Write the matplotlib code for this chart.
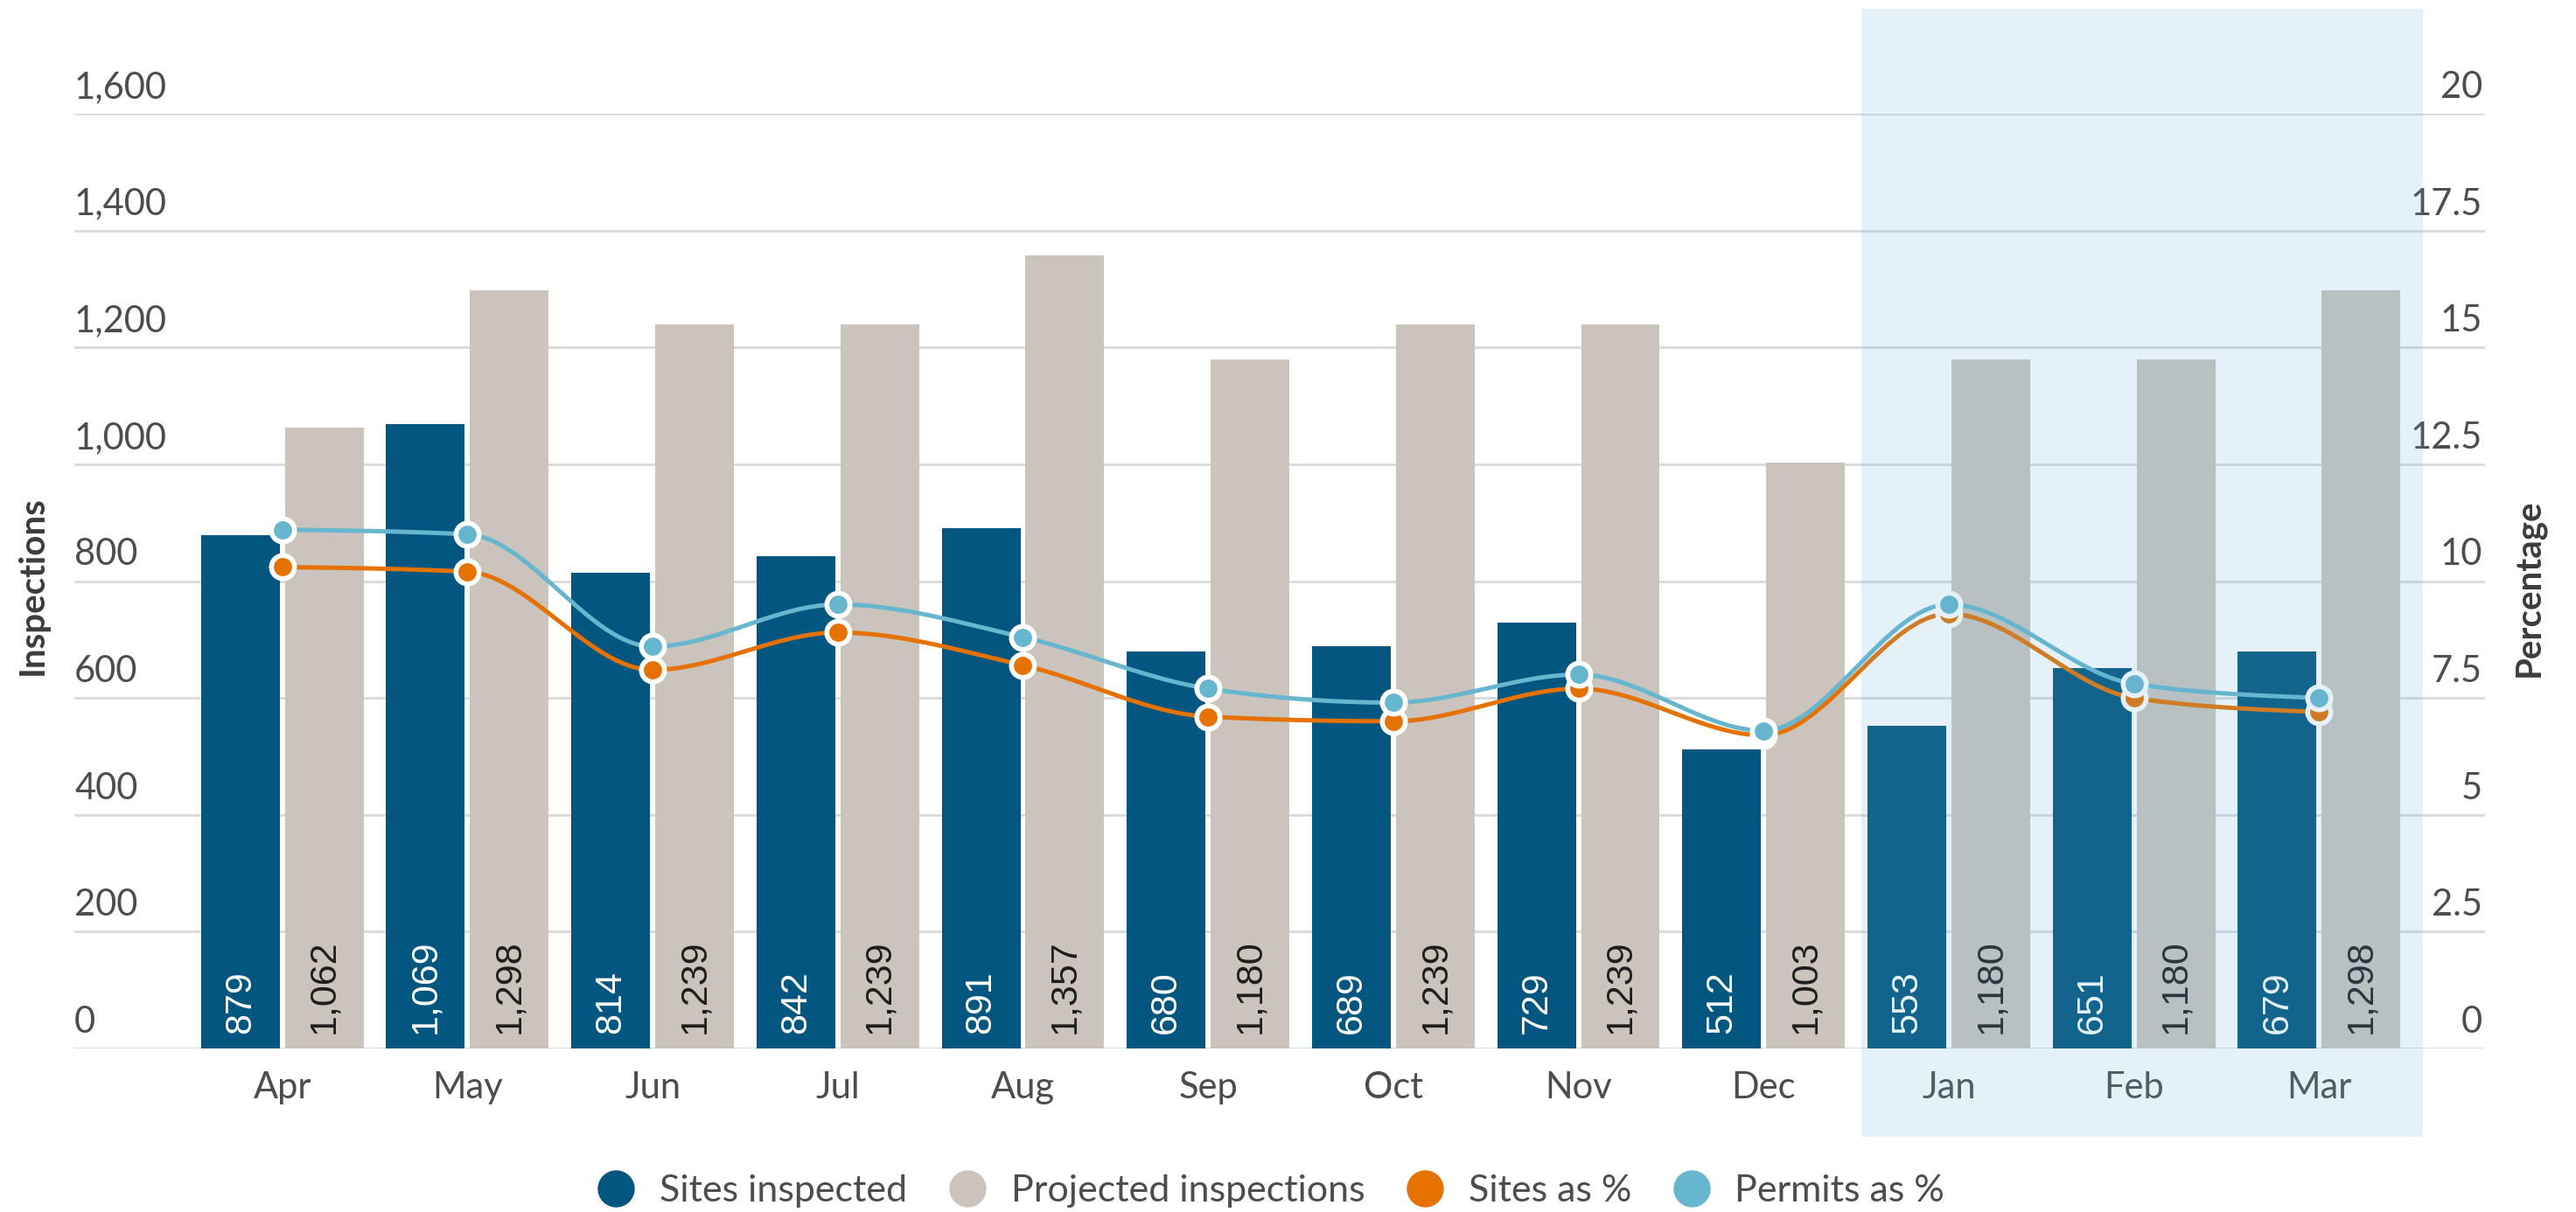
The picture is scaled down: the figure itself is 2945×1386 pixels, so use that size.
import numpy as np
import matplotlib
matplotlib.use("Agg")
import matplotlib.pyplot as plt
from matplotlib.lines import Line2D
from matplotlib.patches import Rectangle
from matplotlib.transforms import blended_transform_factory

plt.rcParams["font.family"] = ["Lato", "DejaVu Sans"]

months = ["Apr", "May", "Jun", "Jul", "Aug", "Sep", "Oct", "Nov", "Dec", "Jan", "Feb", "Mar"]
sites_inspected = [879, 1069, 814, 842, 891, 680, 689, 729, 512, 553, 651, 679]
projected = [1062, 1298, 1239, 1239, 1357, 1180, 1239, 1239, 1003, 1180, 1180, 1298]
sites_pct = [10.3, 10.2, 8.1, 8.9, 8.2, 7.1, 7.0, 7.7, 6.7, 9.3, 7.5, 7.2]
permits_pct = [11.1, 11.0, 8.6, 9.5, 8.8, 7.7, 7.4, 8.0, 6.8, 9.5, 7.8, 7.5]
left_ticks = [0, 200, 400, 600, 800, 1000, 1200, 1400, 1600]
right_ticks = [0, 2.5, 5, 7.5, 10, 12.5, 15, 17.5, 20]
right_tick_labels = ["0", "2.5", "5", "7.5", "10", "12.5", "15", "17.5", "20"]

BLUE = "#02567F"
GREY = "#CBC4BD"
ORANGE = "#E57200"
LIGHT = "#67B6CF"
TEXT = "#4D4D4D"
GRID = "#D9D9D9"


def monotone_x(xs, ys, n=40):
    """Monotone cubic (d3 curveMonotoneX style) through the points."""
    xs = np.asarray(xs, float)
    ys = np.asarray(ys, float)
    h = np.diff(xs)
    s = np.diff(ys) / h
    m = np.zeros(len(xs))
    for i in range(1, len(xs) - 1):
        s0, s1, h0, h1 = s[i - 1], s[i], h[i - 1], h[i]
        p = (s0 * h1 + s1 * h0) / (h0 + h1)
        sg = (-1 if s0 < 0 else 1) + (-1 if s1 < 0 else 1)
        m[i] = sg * min(abs(s0), abs(s1), 0.5 * abs(p))
    m[0] = (3 * s[0] - m[1]) / 2
    m[-1] = (3 * s[-1] - m[-2]) / 2
    px, py = [], []
    for i in range(len(xs) - 1):
        t = np.linspace(0, 1, n)
        h00 = 2 * t**3 - 3 * t**2 + 1
        h10 = t**3 - 2 * t**2 + t
        h01 = -2 * t**3 + 3 * t**2
        h11 = t**3 - t**2
        px.extend(xs[i] + t * h[i])
        py.extend(h00 * ys[i] + h10 * h[i] * m[i] + h01 * ys[i + 1] + h11 * h[i] * m[i + 1])
    return np.array(px), np.array(py)


W, H = 2945, 1386
fig = plt.figure(figsize=(W / 100, H / 100), dpi=100)
ax = fig.add_axes([85 / W, (H - 1199) / H, (2841 - 85) / W, (1199 - 130) / H])
ax2 = ax.twinx()

x = np.arange(len(months))
bw = 0.425
off = bw / 2 + 0.014
ax.bar(x - off, sites_inspected, bw, color=BLUE, zorder=2)
ax.bar(x + off, projected, bw, color=GREY, zorder=2)

for xi, v in zip(x, sites_inspected):
    ax.text(xi - off, 25, f"{v:,}", rotation=90, ha="center", va="bottom",
            color="white", fontsize=31, family=["Liberation Sans", "DejaVu Sans"], zorder=3)
for xi, v in zip(x, projected):
    ax.text(xi + off, 25, f"{v:,}", rotation=90, ha="center", va="bottom",
            color="#1E1E1E", fontsize=31, family=["Liberation Sans", "DejaVu Sans"], zorder=3)

ax.set_xlim(-1.123, 11.896)
ax.set_ylim(0, 1600)
ax2.set_ylim(0, 20)

for t in left_ticks:
    ax.axhline(t, color=GRID, lw=2, zorder=0)

ax.set_yticks([])
ax2.set_yticks([])
ax.set_xticks(x, months)
ax.tick_params(axis="x", length=0, pad=19, labelsize=30, labelcolor=TEXT)
for a in (ax, ax2):
    for sp in a.spines.values():
        sp.set_visible(False)

ytr = blended_transform_factory(ax.transAxes, ax.transData)
for t in left_ticks:
    ax.annotate(f"{t:,}", (0, t), xycoords=ytr, xytext=(0, 8), textcoords="offset points",
                ha="left", va="bottom", fontsize=30, color=TEXT)
ytr2 = blended_transform_factory(ax2.transAxes, ax2.transData)
for t, lab in zip(right_ticks, right_tick_labels):
    ax2.annotate(lab, (0.999, t), xycoords=ytr2, xytext=(0, 8), textcoords="offset points",
                 ha="right", va="bottom", fontsize=30, color=TEXT)

fig.text(37 / W, 1 - 670 / H, "Inspections", rotation=90, ha="center", va="center",
         fontsize=29, fontweight="bold", color="#3C3C3C")
fig.text(2891 / W, 1 - 672 / H, "Percentage", rotation=90, ha="center", va="center",
         fontsize=29, fontweight="bold", color="#3C3C3C")

for vals, col in ((sites_pct, ORANGE), (permits_pct, LIGHT)):
    cx, cy = monotone_x(x, vals)
    ax2.plot(cx, cy, color=col, lw=3.6, zorder=3, solid_capstyle="round")
    ax2.plot(x, vals, "o", ms=19, mfc=col, mec="white", mew=4, zorder=4)

# highlighted Jan-Mar block, translucent over everything
shade_tr = blended_transform_factory(ax.transData, fig.transFigure)
fig.add_artist(Rectangle((8.53, 1 - 1300 / H), 11.56 - 8.53, (1300 - 10) / H,
                         transform=shade_tr, facecolor=(100 / 255, 175 / 255, 215 / 255),
                         alpha=0.17, edgecolor="none", zorder=10))

handles = [Line2D([], [], marker="o", ls="", ms=29.5, color=c) for c in (BLUE, GREY, ORANGE, LIGHT)]
labels = ["Sites inspected", "Projected inspections", "Sites as %", "Permits as %"]
fig.legend(handles, labels, loc="center", bbox_to_anchor=(1453 / W, 1 - 1362 / H), ncol=4,
           frameon=False, fontsize=31, labelcolor=TEXT, handlelength=1.0, handletextpad=0.65,
           columnspacing=1.1, borderpad=0, borderaxespad=0)

fig.savefig("out.png", dpi=100)
